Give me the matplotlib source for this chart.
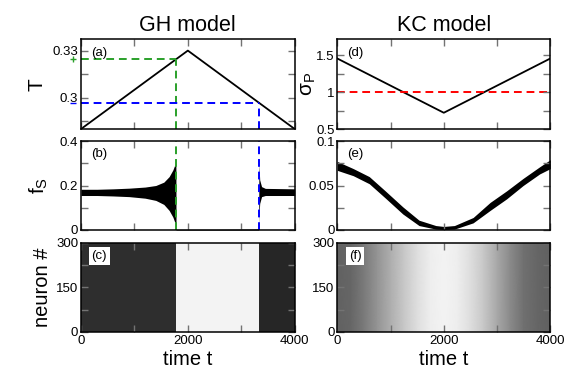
import matplotlib
matplotlib.use("Agg")
import matplotlib.pyplot as plt
import matplotlib.transforms as mtransforms
import numpy as np

plt.rcParams['font.family'] = ['Liberation Sans', 'DejaVu Sans']
plt.rcParams['mathtext.fontset'] = 'custom'
plt.rcParams['mathtext.rm'] = 'Liberation Sans'
plt.rcParams['mathtext.it'] = 'Liberation Sans:italic'

# ---------------- data ----------------
# (a) GH model: temperature protocol
t_T = [0, 2000, 4000]
T_vals = [0.28, 0.33, 0.28]
t_green = 1778      # transition on the way up
T_green = 0.3245
t_blue = 3326       # transition on the way down
T_blue = 0.2964

# (b) GH model: fraction of spiking, noisy band (lower / upper envelope)
t_b = [0, 300, 600, 900, 1200, 1400, 1550, 1650, 1720, 1760, 1776, 1779,
       2500, 3200, 3320, 3326, 3330, 3345, 3380, 3450, 4000]
lo_b = [0.155, 0.155, 0.153, 0.150, 0.143, 0.133, 0.115, 0.088, 0.058, 0.032, 0.010, 0.0,
        0.0, 0.0, 0.0, 0.0, 0.06, 0.12, 0.150, 0.155, 0.155]
hi_b = [0.183, 0.183, 0.185, 0.188, 0.193, 0.200, 0.215, 0.240, 0.270, 0.295, 0.300, 0.003,
        0.003, 0.004, 0.005, 0.008, 0.300, 0.225, 0.195, 0.187, 0.185]

# (c) GH model raster: fraction of dark pixels per time segment
c_edges = [0, 1778, 3326, 4000]
c_density = [0.82, 0.05, 0.85]

# (d) KC model: sigma_P protocol
t_sig = [0, 2000, 4000]
sig_vals = [1.455, 0.72, 1.455]
sig_crit = 1.0

# (e) KC model: fraction of spiking, noisy band
t_e = [0, 300, 600, 900, 1230, 1535, 1850, 2000, 2200, 2550, 2870, 3180, 3490, 3800, 4000]
lo_e = [0.067, 0.061, 0.052, 0.036, 0.018, 0.005, 0.001, 0.0005, 0.001, 0.008, 0.022, 0.035, 0.050, 0.063, 0.069]
hi_e = [0.077, 0.069, 0.060, 0.044, 0.026, 0.011, 0.005, 0.004, 0.005, 0.014, 0.031, 0.044, 0.058, 0.071, 0.079]

# (f) KC model raster: darkness at time nodes
f_nodes = [0, 250, 500, 750, 1000, 1250, 1500, 1750, 2000, 2250, 2500, 2750, 3000, 3250, 3500, 3750, 4000]
f_density = [0.62, 0.60, 0.52, 0.42, 0.32, 0.22, 0.13, 0.07, 0.05, 0.07, 0.13, 0.22, 0.34, 0.46, 0.56, 0.60, 0.62]

titles = ["GH model", "KC model"]
xticks_major = [0, 2000, 4000]
xticks_minor = [1000, 3000]

GREEN = '#2aa02a'
BLUE = '#0000ff'
RED = '#ff0000'

# ---------------- figure ----------------
fig = plt.figure(figsize=(5.81, 3.78), dpi=100)
W, H = 581, 378

def axpos(x0, x1, y0, y1):
    return [x0 / W, 1 - y1 / H, (x1 - x0) / W, (y1 - y0) / H]

colx = [(81, 294.7), (337.3, 550.3)]
rowy = [(39.3, 129), (141, 230), (242.7, 332)]
axes = [[fig.add_axes(axpos(colx[c][0], colx[c][1], rowy[r][0], rowy[r][1]))
         for c in range(2)] for r in range(3)]

for r in range(3):
    for c in range(2):
        ax = axes[r][c]
        ax.set_xlim(0, 4000)
        ax.set_xticks(xticks_major)
        ax.set_xticks(xticks_minor, minor=True)
        ax.tick_params(which='both', direction='in', top=True, right=True,
                       length=5, width=1, color='0.45', labelsize=9.5, pad=2)
        for s in ax.spines.values():
            s.set_linewidth(1.1)
            s.set_zorder(5)
        if r < 2:
            ax.tick_params(labelbottom=False)
        else:
            ax.set_xlabel("time t", fontsize=14.5, labelpad=2)
        ax.set_axisbelow(False)

dash = (0, (4, 2.5))

# (a)
ax = axes[0][0]
ax.plot(t_T, T_vals, color='black', lw=1.3)
ax.set_ylim(0.28, 0.3372)
ax.set_yticks([0.30, 0.33])
ax.set_yticklabels(['0.3', '0.33'])
ax.set_yticks([0.285, 0.315], minor=True)
ax.plot([0, t_green], [T_green, T_green], color=GREEN, lw=1.4, ls=dash)
ax.plot([t_green, t_green], [0.28, T_green], color=GREEN, lw=1.4, ls=dash)
ax.plot([0, t_blue], [T_blue, T_blue], color=BLUE, lw=1.4, ls=dash)
ax.plot([t_blue, t_blue], [0.28, T_blue], color=BLUE, lw=1.4, ls=dash)
trans = mtransforms.blended_transform_factory(ax.transAxes, ax.transData)
ax.plot([-0.036], [T_green], marker='+', ms=5, mew=1, color=GREEN, transform=trans, clip_on=False)
ax.plot([-0.036], [T_blue], marker='_', ms=5, mew=1, color=BLUE, transform=trans, clip_on=False)
ax.set_ylabel("T", fontsize=15)
ax.yaxis.set_label_coords(-0.16, 0.5)

# (b)
ax = axes[1][0]
ax.fill_between(t_b, lo_b, hi_b, color='black', lw=0)
ax.axvline(t_green, color=GREEN, lw=1.4, ls=dash)
ax.axvline(t_blue, color=BLUE, lw=1.4, ls=dash)
ax.set_ylim(0, 0.4)
ax.set_yticks([0, 0.2, 0.4])
ax.set_yticklabels(['0', '0.2', '0.4'])
ax.set_yticks([0.1, 0.3], minor=True)
ax.set_ylabel(r"f$_{\mathrm{S}}$", fontsize=15)
ax.yaxis.set_label_coords(-0.145, 0.5)

# (c)
ax = axes[2][0]
ax.pcolormesh(c_edges, [0, 300], np.array([c_density]), cmap='gray_r', vmin=0, vmax=1,
              shading='flat')
ax.set_ylim(0, 300)
ax.set_yticks([0, 150, 300])
ax.set_yticks([75, 225], minor=True)
ax.set_ylabel("neuron #", fontsize=14.5)
ax.yaxis.set_label_coords(-0.135, 0.5)

# (d)
ax = axes[0][1]
ax.plot(t_sig, sig_vals, color='black', lw=1.3)
ax.axhline(sig_crit, color=RED, lw=1.4, ls=dash)
ax.set_ylim(0.5, 1.715)
ax.set_yticks([0.5, 1.0, 1.5])
ax.set_yticklabels(['0.5', '1', '1.5'])
ax.set_yticks([0.75, 1.25], minor=True)
ax.set_ylabel("σ$_{\\mathrm{P}}$", fontsize=15)
ax.yaxis.set_label_coords(-0.09, 0.5)

# (e)
ax = axes[1][1]
ax.fill_between(t_e, lo_e, hi_e, color='black', lw=0)
ax.set_ylim(0, 0.1)
ax.set_yticks([0, 0.05, 0.1])
ax.set_yticklabels(['0', '0.05', '0.1'])
ax.set_yticks([0.025, 0.075], minor=True)

# (f)
ax = axes[2][1]
ax.pcolormesh(f_nodes, [0, 300], np.array([f_density, f_density]), cmap='gray_r',
              vmin=0, vmax=1, shading='gouraud')
ax.set_ylim(0, 300)
ax.set_yticks([0, 150, 300])
ax.set_yticks([75, 225], minor=True)

# panel letters
letters = [["(a)", "(d)"], ["(b)", "(e)"], ["(c)", "(f)"]]
for r in range(3):
    for c in range(2):
        ax = axes[r][c]
        kw = {}
        if r == 2:
            kw = dict(bbox=dict(facecolor='white', edgecolor='none', pad=2.0))
        ax.text(0.085, 0.85, letters[r][c], transform=ax.transAxes, fontsize=9.5,
                ha='center', va='center', zorder=6, **kw)

for c in range(2):
    axes[0][c].set_title(titles[c], fontsize=15.5, pad=6)

fig.savefig("out.png", dpi=100)
